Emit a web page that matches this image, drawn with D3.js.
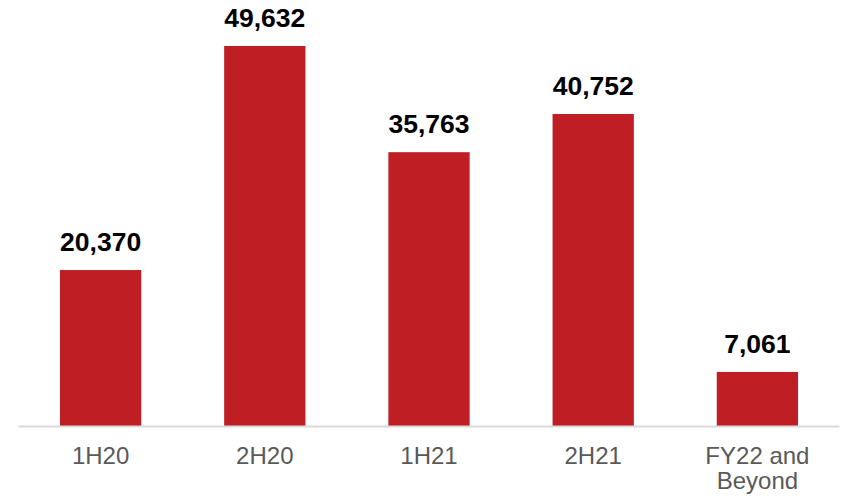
<!DOCTYPE html>
<html>
<head>
<meta charset="utf-8">
<script src="https://cdn.jsdelivr.net/npm/d3@7"></script>
<style>
  html, body { margin: 0; padding: 0; background: #fff; }
  svg { display: block; }
</style>
</head>
<body>
<svg id="chart" width="841" height="496"></svg>
<script>
// Period labels (multi-line labels split by "\n")
const categories = ["1H20", "2H20", "1H21", "2H21", "FY22 and\nBeyond"];
// Value per period
const values = [20370, 49632, 35763, 40752, 7061];

const width = 841, height = 496;
const baseline = 426;
const svg = d3.select("#chart");

const x = d3.scaleBand()
  .domain(categories)
  .range([18.5, 839.5])
  .paddingInner(0.505)
  .paddingOuter(0.2525);

const y = d3.scaleLinear()
  .domain([0, 49632])
  .range([baseline, 46]);

// Bars
svg.append("g")
  .selectAll("rect")
  .data(values)
  .join("rect")
  .attr("x", (d, i) => x(categories[i]))
  .attr("y", d => y(d))
  .attr("width", x.bandwidth())
  .attr("height", d => y(0) - y(d))
  .attr("fill", "#be1e24");

// Value labels
const fmt = d3.format(",");
svg.append("g")
  .selectAll("text")
  .data(values)
  .join("text")
  .attr("x", (d, i) => x(categories[i]) + x.bandwidth() / 2)
  .attr("y", d => y(d) - 19)
  .attr("text-anchor", "middle")
  .attr("font-family", "'Liberation Sans', Arial, sans-serif")
  .attr("font-weight", "bold")
  .attr("font-size", 26.5)
  .attr("fill", "#000")
  .text(d => fmt(d));

// Category axis
const axis = d3.axisBottom(x).tickSize(0).tickPadding(0);
const gAxis = svg.append("g")
  .attr("transform", `translate(0,${baseline})`)
  .call(axis);

gAxis.select(".domain")
  .attr("d", `M18.5,0.5H839.5`)
  .attr("stroke", "#d9d9d9")
  .attr("stroke-width", 2);

gAxis.selectAll(".tick text")
  .attr("font-family", "'Liberation Sans', Arial, sans-serif")
  .attr("font-size", 24)
  .attr("fill", "#595959")
  .attr("dy", null)
  .attr("y", 0)
  .each(function(d) {
    const t = d3.select(this);
    const lines = d.split("\n");
    t.text(null);
    lines.forEach((ln, i) => {
      t.append("tspan")
        .attr("x", 0)
        .attr("y", 38 + i * 25)
        .text(ln);
    });
  });
</script>
</body>
</html>
